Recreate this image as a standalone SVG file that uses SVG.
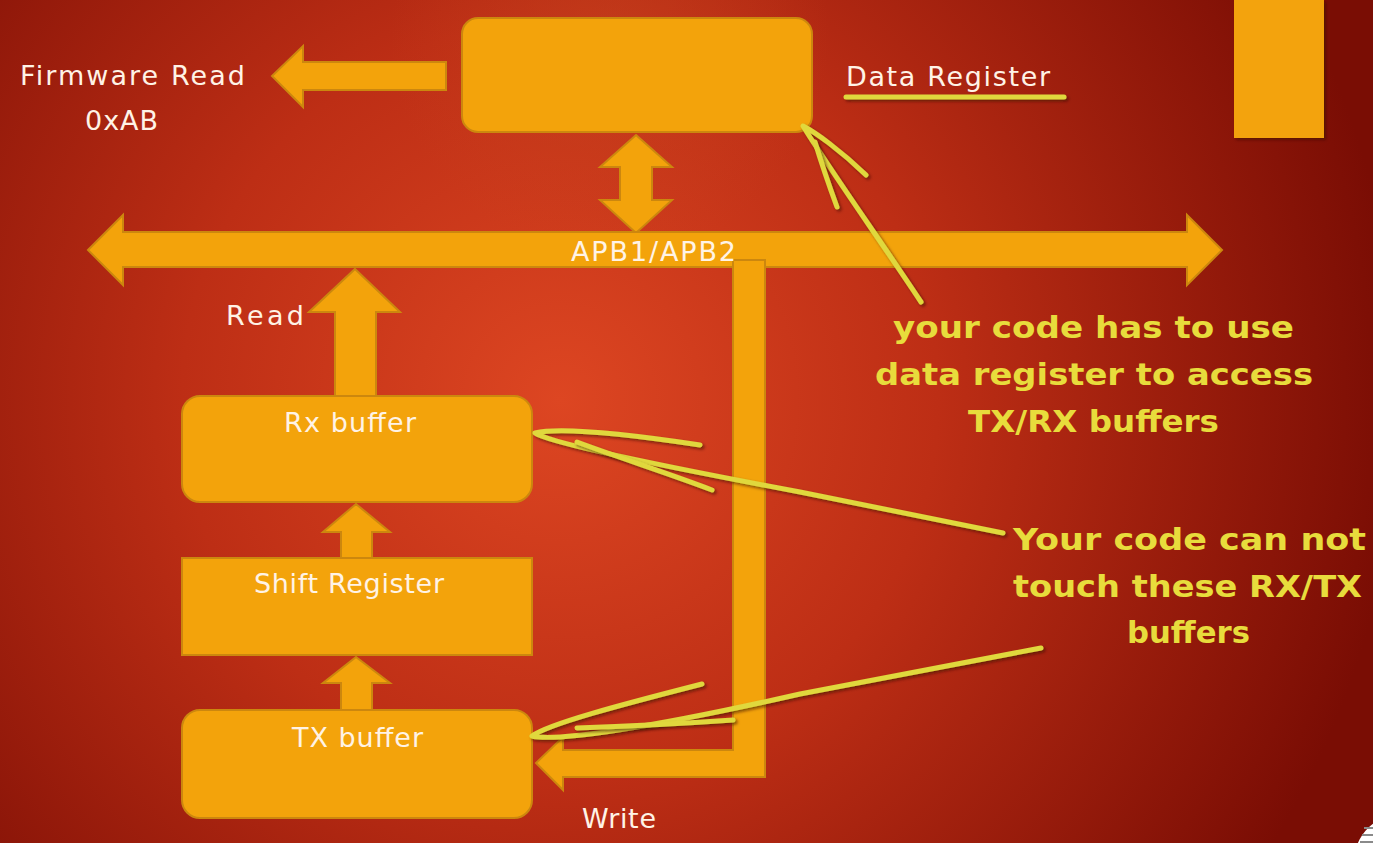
<svg xmlns="http://www.w3.org/2000/svg" width="1373" height="843" viewBox="0 0 1373 843">
<defs>
<radialGradient id="bg" gradientUnits="userSpaceOnUse" cx="560" cy="400" r="840">
<stop offset="0" stop-color="#dd4622"/>
<stop offset="0.45" stop-color="#bd2e15"/>
<stop offset="1" stop-color="#7a0d04"/>
</radialGradient>
<radialGradient id="glow" gradientUnits="userSpaceOnUse" cx="610" cy="40" r="220">
<stop offset="0" stop-color="#c8431e" stop-opacity="0.55"/>
<stop offset="1" stop-color="#c8431e" stop-opacity="0"/>
</radialGradient>
<filter id="sh" filterUnits="userSpaceOnUse" x="0" y="0" width="1373" height="843">
<feDropShadow dx="2" dy="2" stdDeviation="1.5" flood-color="#3a0a00" flood-opacity="0.6"/>
</filter>
</defs>
<style>
.o{fill:#f3a30b;stroke:#cc870e;stroke-width:2}
.w{font-family:"DejaVu Sans",sans-serif;font-size:27px;fill:#fff3e6}
.y{font-family:"DejaVu Sans",sans-serif;font-weight:bold;font-size:31px;fill:#e8dc3c}
.hl{fill:none;stroke:#e0d83c;stroke-width:5;stroke-linecap:round;stroke-linejoin:round;filter:url(#sh)}
</style>
<rect width="1373" height="843" fill="url(#bg)"/>
<rect width="1373" height="843" fill="url(#glow)"/>

<g id="connectors">
<polygon class="o" points="446,62 303,62 303,46 272,76 303,107 303,90 446,90"/>
<polygon class="o" points="636,135 672,167 652,167 652,200 672,200 636,233 600,200 620,200 620,167 600,167"/>
<polygon class="o" points="88,250 123,215 123,232 1187,232 1187,215 1222,250 1187,285 1187,267 123,267 123,285"/>
<polygon class="o" points="733,260 765,260 765,777 563,777 563,790 536,763 563,737 563,750 733,750"/>
<polygon class="o" points="355,269 400,312 376,312 376,396 335,396 335,312 309,312"/>
<polygon class="o" points="356,504 390,532 372,532 372,558 341,558 341,532 323,532"/>
<polygon class="o" points="356,657 390,683 372,683 372,710 341,710 341,683 323,683"/>
</g>

<g id="data-register">
<rect class="o" x="462" y="18" width="350" height="114" rx="16"/>
</g>
<g id="side-block">
<rect x="1234" y="0" width="90" height="138" fill="#f3a30b" filter="url(#sh)"/>
</g>
<g id="rx-buffer">
<rect class="o" x="182" y="396" width="350" height="106" rx="18"/>
<text class="w" x="284" y="432" textLength="132">Rx buffer</text>
</g>
<g id="shift-register">
<rect class="o" x="182" y="558" width="350" height="97"/>
<text class="w" x="254" y="593" textLength="190">Shift Register</text>
</g>
<g id="tx-buffer">
<rect class="o" x="182" y="710" width="350" height="108" rx="18"/>
<text class="w" x="292" y="747" textLength="131">TX buffer</text>
</g>

<g id="labels">
<text class="w" x="20" y="85" textLength="225">Firmware Read</text>
<text class="w" x="85" y="130" textLength="73">0xAB</text>
<text class="w" x="846" y="86" textLength="204">Data Register</text>
<text class="w" x="571" y="261" textLength="165">APB1/APB2</text>
<text class="w" x="226" y="325" textLength="78">Read</text>
<text class="w" x="582" y="828" textLength="74">Write</text>
</g>

<g id="annotations">
<path class="hl" d="M846,97 L1064,97"/>
<path class="hl" d="M866,175 C840,150 815,132 803,126 C830,170 880,240 921,302"/>
<path class="hl" d="M815,142 C822,165 830,188 837,207"/>
<path class="hl" d="M700,445 C620,433 560,427 535,433 C548,442 640,462 800,492 L1003,533"/>
<path class="hl" d="M577,442 C620,458 670,474 712,490"/>
<path class="hl" d="M702,684 C620,705 548,724 532,736 C555,742 650,728 800,694 L1041,648"/>
<path class="hl" d="M577,728 C640,726 690,723 733,720"/>
<text class="y" x="893" y="338" textLength="401" lengthAdjust="spacingAndGlyphs">your code has to use</text>
<text class="y" x="875" y="385" textLength="438" lengthAdjust="spacingAndGlyphs">data register to access</text>
<text class="y" x="968" y="432" textLength="251" lengthAdjust="spacingAndGlyphs">TX/RX buffers</text>
<text class="y" x="1013" y="550" textLength="353" lengthAdjust="spacingAndGlyphs">Your code can not</text>
<text class="y" x="1013" y="597" textLength="349" lengthAdjust="spacingAndGlyphs">touch these RX/TX</text>
<text class="y" x="1127" y="643" textLength="123" lengthAdjust="spacingAndGlyphs">buffers</text>
</g>

<g id="corner-icon">
<circle cx="1402" cy="862" r="48" fill="#ffffff"/>
<path d="M1364,828 L1373,828 M1362,835 L1373,835 M1360,842 L1373,842" stroke="#8a8a8a" stroke-width="2"/>
</g>
</svg>
